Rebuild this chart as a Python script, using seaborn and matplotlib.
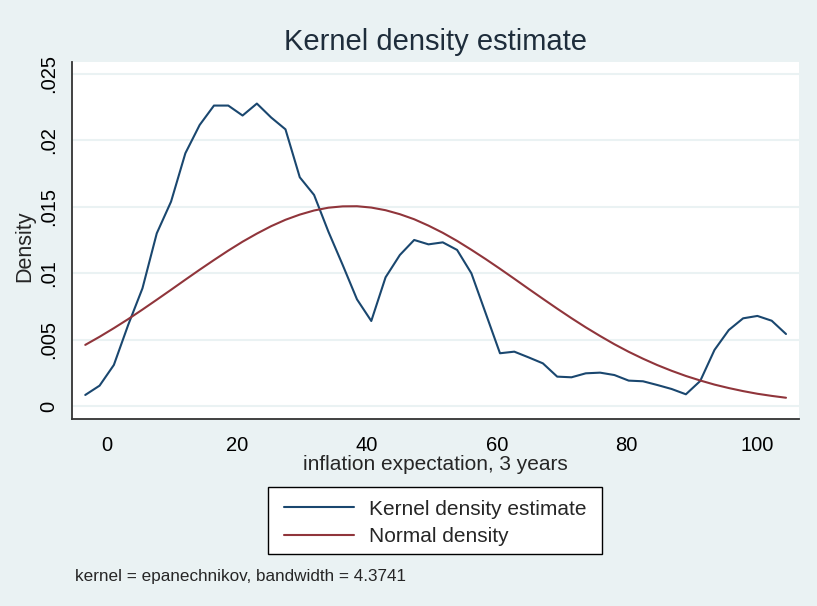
import numpy as np
import pandas as pd
import matplotlib
matplotlib.use('Agg')
import matplotlib.pyplot as plt
import matplotlib.patches as patches
import seaborn as sns

# puntos de evaluacion (50 puntos, como Stata)
x_vals = [-3.3, -1.1, 1.1, 3.3, 5.5, 7.7, 9.9, 12.1, 14.3, 16.5,
          18.7, 20.9, 23.1, 25.3, 27.5, 29.7, 31.9, 34.1, 36.3, 38.5,
          40.7, 42.9, 45.1, 47.3, 49.5, 51.7, 53.9, 56.1, 58.3, 60.5,
          62.7, 64.9, 67.1, 69.3, 71.5, 73.7, 75.9, 78.1, 80.3, 82.5,
          84.7, 86.9, 89.1, 91.3, 93.5, 95.7, 97.9, 100.1, 102.3, 104.5]

kde_vals = [0.00083, 0.00153, 0.00309, 0.00610, 0.00886, 0.01300, 0.01539, 0.01903, 0.02116, 0.02262,
            0.02262, 0.02187, 0.02277, 0.02172, 0.02083, 0.01722, 0.01589, 0.01313, 0.01062, 0.00803,
            0.00640, 0.00969, 0.01137, 0.01250, 0.01217, 0.01232, 0.01175, 0.00999, 0.00698, 0.00397,
            0.00409, 0.00366, 0.00321, 0.00221, 0.00216, 0.00246, 0.00251, 0.00233, 0.00191, 0.00186,
            0.00158, 0.00128, 0.00088, 0.00188, 0.00422, 0.00572, 0.00660, 0.00678, 0.00642, 0.00542]

normal_vals = [0.00460, 0.00521, 0.00586, 0.00654, 0.00726, 0.00800, 0.00875, 0.00951, 0.01026, 0.01099,
               0.01170, 0.01237, 0.01298, 0.01354, 0.01402, 0.01441, 0.01472, 0.01493, 0.01503, 0.01504,
               0.01494, 0.01474, 0.01444, 0.01406, 0.01358, 0.01304, 0.01243, 0.01176, 0.01106, 0.01033,
               0.00958, 0.00882, 0.00807, 0.00733, 0.00661, 0.00592, 0.00527, 0.00465, 0.00408, 0.00356,
               0.00308, 0.00265, 0.00226, 0.00192, 0.00161, 0.00135, 0.00112, 0.00092, 0.00076, 0.00062]

x_ticks = [0, 20, 40, 60, 80, 100]
y_ticks = [0, 0.005, 0.01, 0.015, 0.02, 0.025]
y_tick_labels = ['0', '.005', '.01', '.015', '.02', '.025']

df = pd.DataFrame({'x': x_vals, 'kde': kde_vals, 'normal': normal_vals})

fondo = '#EAF2F3'
azul = '#1A476F'
rojo = '#90353B'

sns.set_style('white')
plt.rcParams['font.family'] = ['Liberation Sans', 'DejaVu Sans']

fig = plt.figure(figsize=(8.17, 6.06), dpi=100, facecolor=fondo)
ax = fig.add_axes([72/817, 1-419/606, (799-72)/817, (419-62)/606])
ax.set_facecolor('white')

sns.lineplot(data=df, x='x', y='kde', ax=ax, color=azul, lw=1.5, label='Kernel density estimate')
sns.lineplot(data=df, x='x', y='normal', ax=ax, color=rojo, lw=1.5, label='Normal density')

ax.set_xlim(-5.34, 106.5)
ax.set_ylim(-0.00098, 0.0259)
ax.set_xticks(x_ticks)
ax.set_yticks(y_ticks)
ax.set_yticklabels(y_tick_labels, rotation=90, va='center')
ax.grid(axis='y', color=fondo, lw=1.5)
ax.set_axisbelow(True)

for s in ['top', 'right']:
    ax.spines[s].set_visible(False)
for s in ['left', 'bottom']:
    ax.spines[s].set_color('#333333')
    ax.spines[s].set_linewidth(1.3)

ax.tick_params(axis='both', direction='out', length=6, width=1.2, color='#333333',
               labelsize=14.5, labelcolor='black', pad=6)
ax.tick_params(axis='y', pad=4)

ax.set_xlabel('inflation expectation, 3 years', fontsize=15)
ax.xaxis.set_label_coords(0.5, -46/357)
ax.xaxis.label.set_va('center')
ax.set_ylabel('Density', fontsize=15.5)
ax.yaxis.set_label_coords(-47/727, 0.485)
ax.yaxis.label.set_va('center')

fig.text(435/817, 1-42/606, 'Kernel density estimate', fontsize=21, color='#1E2D3B',
         ha='center', va='center')

# caja de la leyenda dibujada aparte
caja = patches.Rectangle((268/817, 1-554/606), (602-268)/817, (554-487)/606,
                         transform=fig.transFigure, facecolor='white', edgecolor='black', lw=1.0)
fig.add_artist(caja)

ax.get_legend().remove()
handles, labels = ax.get_legend_handles_labels()
leg = fig.legend(handles, labels, loc='center', bbox_to_anchor=(435/817, 1-523/606),
                 fontsize=15, frameon=False,
                 handlelength=3.4, handletextpad=0.7, borderpad=0.45, labelspacing=0.42,
                 borderaxespad=0)
leg.set_zorder(5)

fig.text(75/817, 1-576/606, 'kernel = epanechnikov, bandwidth = 4.3741', fontsize=12.3,
         ha='left', va='center')

fig.savefig('out.png', dpi=100, facecolor=fondo)
